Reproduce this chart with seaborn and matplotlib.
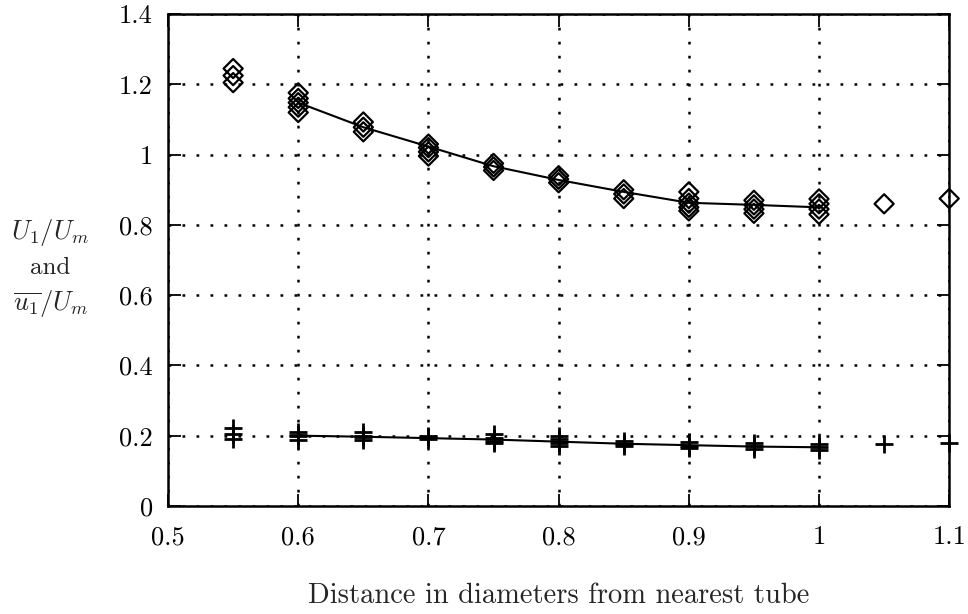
import matplotlib
matplotlib.use("Agg")
import matplotlib.pyplot as plt
from matplotlib.ticker import FuncFormatter
import pandas as pd
import seaborn as sns

# Measuring stations (distance in diameters from nearest tube)
stations = [0.55, 0.60, 0.65, 0.70, 0.75, 0.80, 0.85, 0.90, 0.95, 1.00, 1.05, 1.10]

# Mean velocity ratio U1/Um, repeated readings at each station
mean_readings = [
    [1.245, 1.225, 1.205],
    [1.176, 1.160, 1.148, 1.135, 1.120],
    [1.093, 1.078, 1.065],
    [1.030, 1.020, 1.008, 0.996],
    [0.975, 0.965, 0.955],
    [0.940, 0.930, 0.920],
    [0.900, 0.888, 0.875],
    [0.894, 0.875, 0.862, 0.850, 0.840],
    [0.870, 0.857, 0.845, 0.833],
    [0.874, 0.860, 0.845, 0.830],
    [0.860],
    [0.875],
]

# Fluctuation ratio u1/Um, repeated readings at each station
fluct_readings = [
    [0.222, 0.205, 0.190],
    [0.210, 0.203, 0.198, 0.188],
    [0.210, 0.200, 0.195, 0.188],
    [0.200, 0.195, 0.190],
    [0.205, 0.193, 0.185, 0.178],
    [0.200, 0.190, 0.180, 0.172],
    [0.185, 0.176, 0.170],
    [0.182, 0.172, 0.165],
    [0.178, 0.170, 0.163],
    [0.175, 0.167, 0.160],
    [0.175],
    [0.178],
]

# Faired curves through the readings
curve_x = [0.60, 0.65, 0.70, 0.75, 0.80, 0.85, 0.90, 0.95, 1.00]
mean_curve = [1.148, 1.078, 1.023, 0.967, 0.928, 0.894, 0.863, 0.857, 0.850]
fluct_curve = [0.200, 0.197, 0.193, 0.189, 0.183, 0.177, 0.173, 0.169, 0.167]

x_ticks = [0.5, 0.6, 0.7, 0.8, 0.9, 1.0, 1.1]
y_ticks = [0, 0.2, 0.4, 0.6, 0.8, 1.0, 1.2, 1.4]


def long_form(readings):
    rows = [(s, v) for s, vals in zip(stations, readings) for v in vals]
    return pd.DataFrame(rows, columns=["x", "y"])


mean_df = long_form(mean_readings)
fluct_df = long_form(fluct_readings)
curves = pd.DataFrame({"x": curve_x, "mean": mean_curve, "fluct": fluct_curve})

sns.set_style("ticks")
plt.rcParams["font.family"] = ["cmr10", "DejaVu Serif"]
plt.rcParams["mathtext.fontset"] = "cm"
plt.rcParams["axes.formatter.use_mathtext"] = True

fig = plt.figure(figsize=(9.68, 6.14), dpi=100)
ax = fig.add_axes([0.1736, 0.176, 0.807, 0.801])

sns.lineplot(data=curves, x="x", y="mean", color="black", linewidth=1.5, ax=ax)
sns.lineplot(data=curves, x="x", y="fluct", color="black", linewidth=1.5, ax=ax)

sns.scatterplot(data=mean_df, x="x", y="y", marker="D", s=95,
                facecolor="none", edgecolor="black", linewidth=1.6, ax=ax,
                zorder=3, clip_on=False)
sns.scatterplot(data=fluct_df, x="x", y="y", marker="+", s=170,
                color="black", linewidth=2.0, ax=ax, zorder=3, clip_on=False)

ax.set_xlim(0.5, 1.1)
ax.set_ylim(0, 1.4)
ax.set_xticks(x_ticks)
ax.set_yticks(y_ticks)
fmt = FuncFormatter(lambda v, _: f"{v:g}")
ax.xaxis.set_major_formatter(fmt)
ax.yaxis.set_major_formatter(fmt)

ax.grid(True, color="black", linestyle=(0, (1.1, 4.5)), linewidth=1.8)
for sp in ax.spines.values():
    sp.set_linewidth(1.8)
    sp.set_color("black")
ax.tick_params(direction="in", length=9, width=1.3, top=True, right=True,
               labelsize=19, colors="black")
ax.tick_params(axis="x", pad=14)
ax.tick_params(axis="y", pad=11)

ax.set_xlabel("Distance in diameters from nearest tube", fontsize=20.5, labelpad=24)
ax.set_ylabel("")

fig.text(0.052, 0.622, r"$U_1/U_m$", fontsize=19, ha="center", va="center")
fig.text(0.052, 0.563, "and", fontsize=18, ha="center", va="center")
fig.text(0.052, 0.505, r"$\overline{u_1}/U_m$", fontsize=19, ha="center", va="center")

fig.savefig("out.png", dpi=100)
